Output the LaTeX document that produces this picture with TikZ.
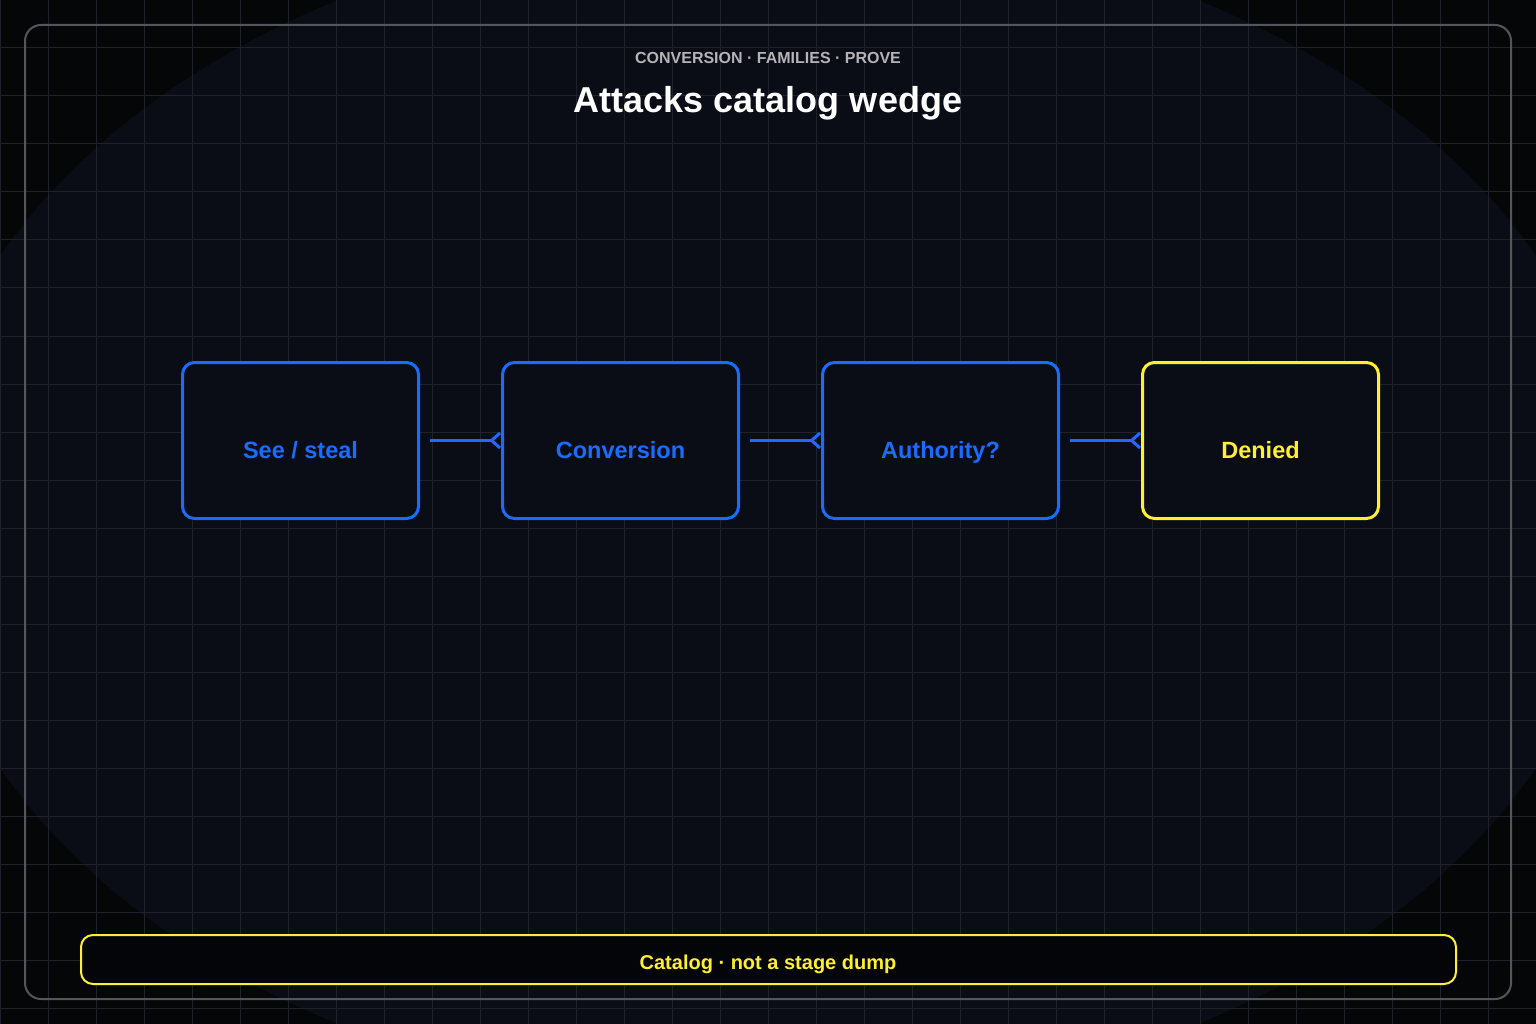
\documentclass[tikz,border=0pt]{standalone}
\usepackage{fontspec}
\setmainfont{Liberation Sans}
\definecolor{bgdark}{HTML}{050608}
\definecolor{bgmid}{HTML}{0A0D15}
\definecolor{gridc}{HTML}{20222A}
\definecolor{framec}{HTML}{55565C}
\definecolor{boxfill}{HTML}{0A0D16}
\definecolor{accblue}{HTML}{1A6CFF}
\definecolor{accyellow}{HTML}{FFEE33}
\definecolor{subgray}{HTML}{B4B4B8}
\definecolor{footfill}{HTML}{040509}
\tikzset{
  gridline/.style={draw=gridc, line width=1pt},
  stagebox/.style={draw=accblue, line width=3pt, fill=boxfill, rounded corners=12pt,
    minimum width=236pt, minimum height=156pt, inner sep=0pt,
    font=\bfseries\fontsize{23.5}{26}\selectfont, text=accblue,
    text height=36.8pt, text depth=0pt},
  finalbox/.style={stagebox, draw=accyellow, text=accyellow},
  conn/.style={draw=accblue, line width=3pt},
}
\begin{document}
\begin{tikzpicture}[x=1pt,y=-1pt]
\useasboundingbox (0,0) rectangle (1536,1024);
\fill[bgdark] (0,0) rectangle (1536,1024);
\begin{scope}
\clip (0,0) rectangle (1536,1024);
\fill[bgmid] (768,512) ellipse [x radius=851, y radius=593];
\end{scope}
\foreach \i in {0,48,...,1536} { \draw[gridline] (\i,0) -- (\i,1024); }
\foreach \j in {0,48,...,1024} { \draw[gridline] (0,\j) -- (1536,\j); }
\draw[framec, line width=2pt, rounded corners=16pt] (25,25) rectangle (1511,999);

\node[anchor=base, text=subgray, font=\bfseries\fontsize{16}{18}\selectfont] (sub) at (768,64) {CONVERSION · FAMILIES · PROVE};
\node[anchor=base, text=white, font=\bfseries\fontsize{36}{40}\selectfont] (title) at (768,113) {Attacks catalog wedge};

\node[stagebox] (a) at (300.5,440.5) {See / steal};
\node[stagebox] (b) at (620.5,440.5) {Conversion};
\node[stagebox] (c) at (940.5,440.5) {Authority?};
\node[finalbox] (d) at (1260.5,440.5) {Denied};

\foreach \p/\q in {a/b,b/c,c/d} {
  \draw[conn] ([xshift=10pt]\p.east) -- ([xshift=-9pt]\q.west);
  \draw[conn, line join=miter] ([xshift=-1pt,yshift=7.5pt]\q.west) -- ([xshift=-9.5pt]\q.west) -- ([xshift=-1pt,yshift=-7.5pt]\q.west);
}

\draw[accyellow, line width=2pt, fill=footfill, rounded corners=12pt] (81,935) rectangle (1456,984);
\node[anchor=base, text=accyellow, font=\bfseries\fontsize{20}{22}\selectfont] (foot) at (768,969) {Catalog · not a stage dump};
\end{tikzpicture}
\end{document}
